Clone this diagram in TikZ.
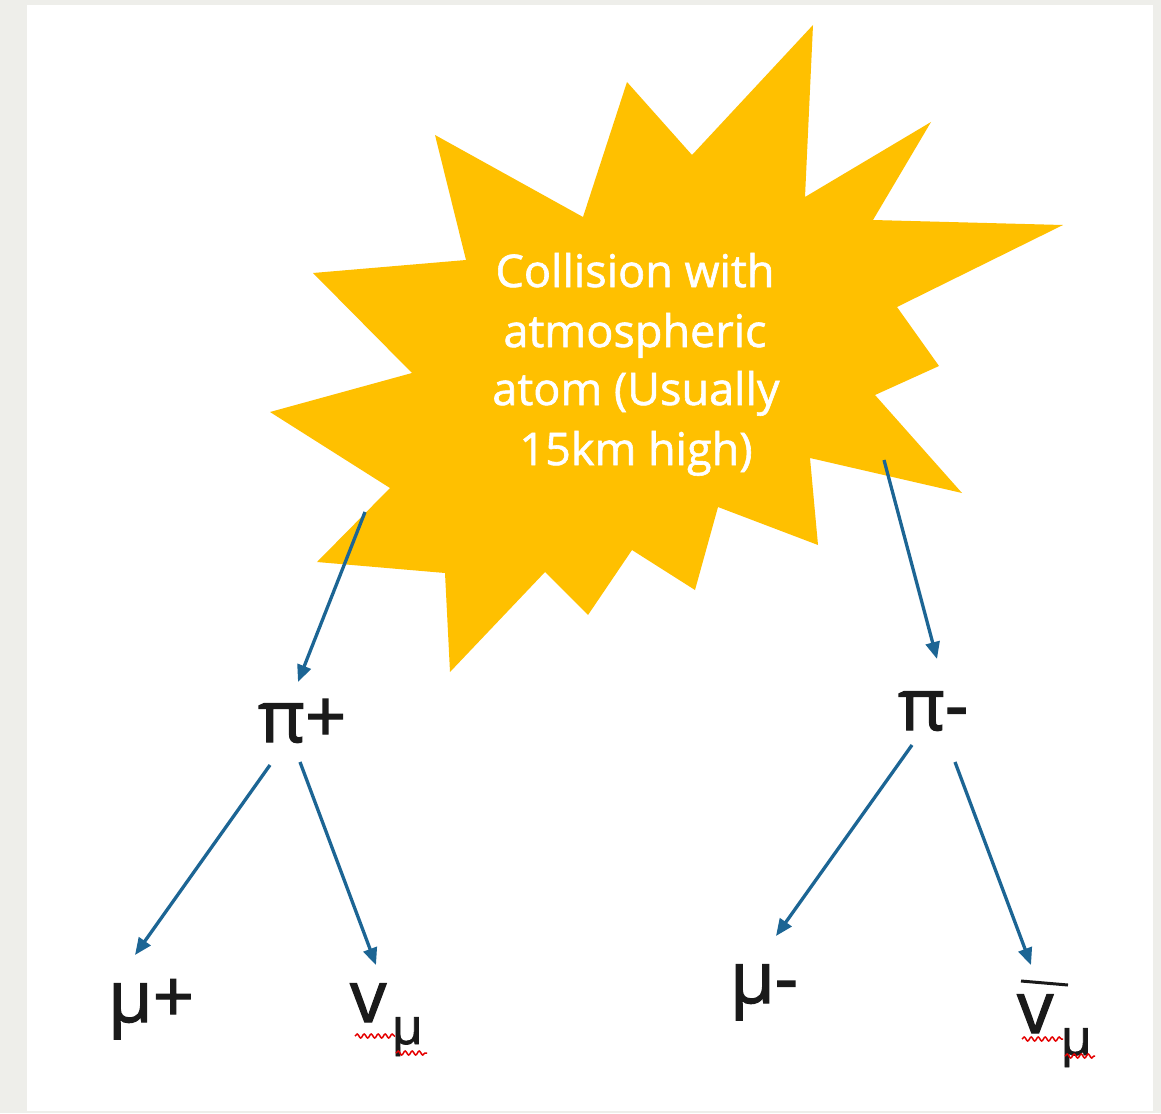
\documentclass[tikz,border=0pt]{standalone}
\usepackage{fontspec}
\setmainfont{Open Sans}
\newfontfamily\starfont[FakeBold=1.3]{Open Sans}
\newfontfamily\labfont[FakeBold=1.8]{Open Sans}
\usetikzlibrary{arrows.meta,decorations.pathmorphing}
\definecolor{bgray}{HTML}{EEEEEA}
\definecolor{gold}{HTML}{FFC000}
\definecolor{arrowblue}{HTML}{1C6594}
\definecolor{txt}{HTML}{1A1A1A}
\tikzset{
  conn/.style={draw=arrowblue,line width=3.3pt,-{Triangle[length=17pt,width=14pt]}},
  startxt/.style={text=white,font=\starfont\fontsize{45}{45}\selectfont,anchor=base,inner sep=0pt},
  particle/.style={text=txt,font=\labfont\fontsize{72}{72}\selectfont,anchor=base west,inner sep=0pt},
  subp/.style={text=txt,font=\labfont\fontsize{50}{50}\selectfont,anchor=base west,inner sep=0pt},
  squig/.style={draw=red!90!black,line width=1.5pt,decorate,decoration={snake,amplitude=2pt,segment length=7pt}}
}
\begin{document}
\begin{tikzpicture}[x=1pt,y=-1pt]
\fill[bgray] (0,0) rectangle (1161,1113);
\fill[white] (27,5) rectangle (1153,1111);
\useasboundingbox (0,0) rectangle (1161,1113);
% star
\fill[gold] (813,25) -- (805,197) -- (931,122) -- (873,220) -- (1063,225) -- (897,307) -- (939,366) -- (875,395) -- (962,493) -- (810,458) -- (818,545) -- (718,507) -- (695,590) -- (632,550) -- (588,615) -- (545,572) -- (450,672) -- (445,573) -- (317,562) -- (390,488) -- (270,412) -- (412,373) -- (313,273) -- (466,260) -- (435,135) -- (583,217) -- (627,82) -- (692,155) -- cycle;
\node[startxt] (l1) at (635,287) {Collision with};
\node[startxt] (l2) at (635,347) {atmospheric};
\node[startxt] (l3) at (636,405) {atom (Usually};
\node[startxt] (l4) at (636,465) {15km high)};
% particles
\node[particle] (pip) at (258,742) {π+};
\node[particle] (pim) at (898,730) {π-};
\node[particle] (mup) at (108,1022) {μ+};
\node[particle] (mum) at (730,1003) {μ-};
\node[particle] (nu) at (350,1022) {v};
\node[subp] (nusub) at ([shift={(5,22)}]nu.base east) {μ};
\node[particle] (nub) at (1017,1033) {v};
\node[subp] (nubsub) at ([shift={(7,22)}]nub.base east) {μ};
\draw[txt,line width=3pt] (1021,981) -- (1068,985);
% spell-check squiggles
\draw[squig] (355,1036) -- (395,1036);
\draw[squig] (396,1053) -- (427,1053);
\draw[squig] (1022,1039) -- (1063,1039);
\draw[squig] (1065,1056) -- (1095,1056);
% connectors
\coordinate (s1) at (365,512);
\coordinate (s2) at (884,460);
\coordinate (p1a) at (298,682);
\coordinate (p2a) at (937,659);
\coordinate (p1l) at (270,765);
\coordinate (p1r) at (300,762);
\coordinate (p2l) at (912,745);
\coordinate (p2r) at (955,762);
\coordinate (e1) at (135,955);
\coordinate (e2) at (376,965);
\coordinate (e3) at (776,936);
\coordinate (e4) at (1031,965);
\draw[conn] (s1) -- (p1a);
\draw[conn] (s2) -- (p2a);
\draw[conn] (p1l) -- (e1);
\draw[conn] (p1r) -- (e2);
\draw[conn] (p2l) -- (e3);
\draw[conn] (p2r) -- (e4);
\end{tikzpicture}
\end{document}
